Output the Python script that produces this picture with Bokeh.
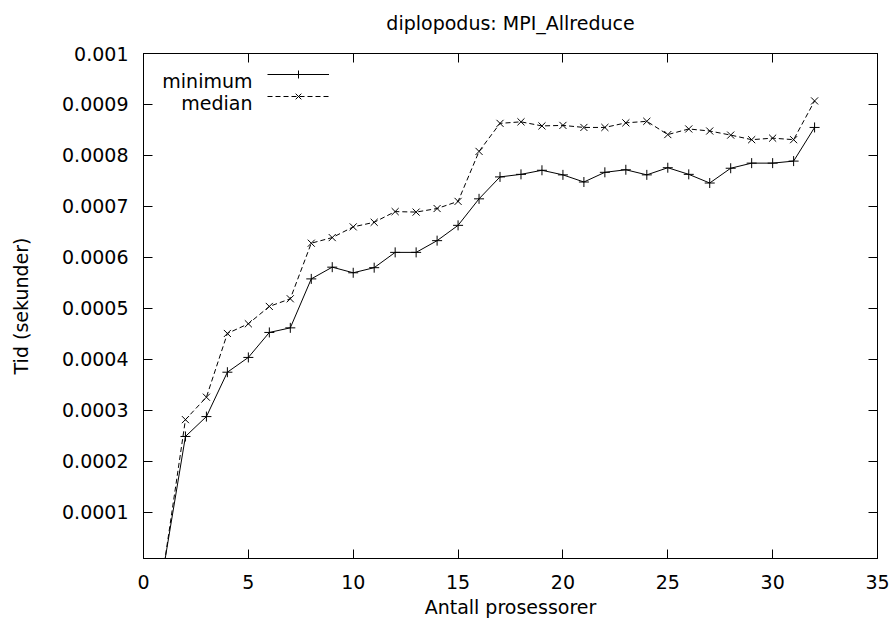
from bokeh.plotting import figure
from bokeh.models import (Range1d, FixedTicker, LinearAxis, Label, Legend,
                          LegendItem, CustomJSTickFormatter)
from bokeh.core.properties import value
from bokeh.embed import file_html
from bokeh.resources import INLINE

# ---------------- data ----------------
procs = list(range(1, 33))
minimum = [0.0000010, 0.000249, 0.000288, 0.000375, 0.000404, 0.000453, 0.000462, 0.000558,
           0.000581, 0.000570, 0.000580, 0.000610, 0.000610, 0.000633, 0.000663, 0.000715,
           0.000758, 0.000763, 0.000771, 0.000762, 0.000748, 0.000767, 0.000772, 0.000762,
           0.000776, 0.000763, 0.000746, 0.000775, 0.000785, 0.000785, 0.000789, 0.000855]
median = [0.0000012, 0.000282, 0.000326, 0.000451, 0.000470, 0.000504, 0.000519, 0.000628,
          0.000639, 0.000660, 0.000669, 0.000690, 0.000689, 0.000696, 0.000710, 0.000808,
          0.000863, 0.000866, 0.000858, 0.000859, 0.000855, 0.000855, 0.000864, 0.000867,
          0.000841, 0.000852, 0.000848, 0.000840, 0.000831, 0.000834, 0.000831, 0.000907]
series_names = ["minimum", "median"]
x_ticks = [0, 5, 10, 15, 20, 25, 30, 35]
y_ticks = [0.0001, 0.0002, 0.0003, 0.0004, 0.0005, 0.0006, 0.0007, 0.0008, 0.0009, 0.001]
y_tick_labels = ["0.0001", "0.0002", "0.0003", "0.0004", "0.0005",
                 "0.0006", "0.0007", "0.0008", "0.0009", "0.001"]
title_text = "diplopodus: MPI_Allreduce"
x_label = "Antall prosessorer"
y_label = "Tid (sekunder)"

FONT = "DejaVu Sans"
FS = "19px"

p = figure(width=893, height=630, output_backend="svg", toolbar_location=None,
           x_range=Range1d(0, 35), y_range=Range1d(0.0000097, 0.001),
           min_border_left=143, min_border_right=16, min_border_top=53, min_border_bottom=72,
           background_fill_color="white", border_fill_color="white")
p.grid.visible = False
p.outline_line_color = "black"
p.outline_line_width = 1
p.title.text = ""

def style_axis(ax, ticks):
    ax.ticker = FixedTicker(ticks=ticks)
    ax.axis_line_color = "black"
    ax.axis_line_width = 1
    ax.major_tick_line_color = "black"
    ax.major_tick_line_width = 1
    ax.major_tick_in = 9
    ax.major_tick_out = 0
    ax.minor_tick_in = 0
    ax.minor_tick_out = 0
    ax.minor_tick_line_color = None
    ax.major_label_text_font = FONT
    ax.major_label_text_font_size = FS
    ax.major_label_text_color = "black"
    ax.axis_label_text_font = FONT
    ax.axis_label_text_font_size = FS
    ax.axis_label_text_font_style = "normal"
    ax.axis_label_text_color = "black"

style_axis(p.xaxis[0], x_ticks)
p.xaxis[0].major_label_standoff = 16
p.xaxis[0].axis_label = x_label
p.xaxis[0].axis_label_standoff = 4

style_axis(p.yaxis[0], y_ticks)
p.yaxis[0].major_label_standoff = 15
p.yaxis[0].major_label_overrides = {v: s for v, s in zip(y_ticks, y_tick_labels)}
p.yaxis[0].axis_label = y_label
p.yaxis[0].axis_label_standoff = 27

blank = CustomJSTickFormatter(code="return ''")
top_ax = LinearAxis(formatter=blank)
style_axis(top_ax, x_ticks)
top_ax.major_label_standoff = 0
top_ax.major_label_text_font_size = "1px"
top_ax.axis_label = title_text
top_ax.axis_label_standoff = 20
p.add_layout(top_ax, "above")

right_ax = LinearAxis(formatter=blank)
style_axis(right_ax, y_ticks)
right_ax.major_label_standoff = 0
right_ax.major_label_text_font_size = "1px"
p.add_layout(right_ax, "right")

# ---------------- series ----------------
l_min = p.line(procs, minimum, line_color="black", line_width=1)
s_min = p.scatter(procs, minimum, marker="cross", size=10, line_color="black", line_width=1)
l_med = p.line(procs, median, line_color="black", line_width=1, line_dash="5 3")
s_med = p.scatter(procs, median, marker="x", size=10, line_color="black", line_width=1)

legend = Legend(items=[LegendItem(label=value(" "), renderers=[l_min, s_min]),
                       LegendItem(label=value(" "), renderers=[l_med, s_med])],
                location=(124, 452), glyph_width=62, glyph_height=20, label_height=1,
                label_width=1, label_standoff=0, spacing=2, padding=0, margin=0,
                label_text_font_size="1px", border_line_color=None,
                background_fill_alpha=0)
p.add_layout(legend, "center")

for name, ly in zip(series_names, [477.4, 455.7]):
    p.add_layout(Label(x=109, y=ly, x_units="screen", y_units="screen", text=name,
                       text_align="right", text_baseline="alphabetic",
                       text_font=FONT, text_font_size=FS, text_color="black"))

open("out.html", "w").write(file_html(p, INLINE))
